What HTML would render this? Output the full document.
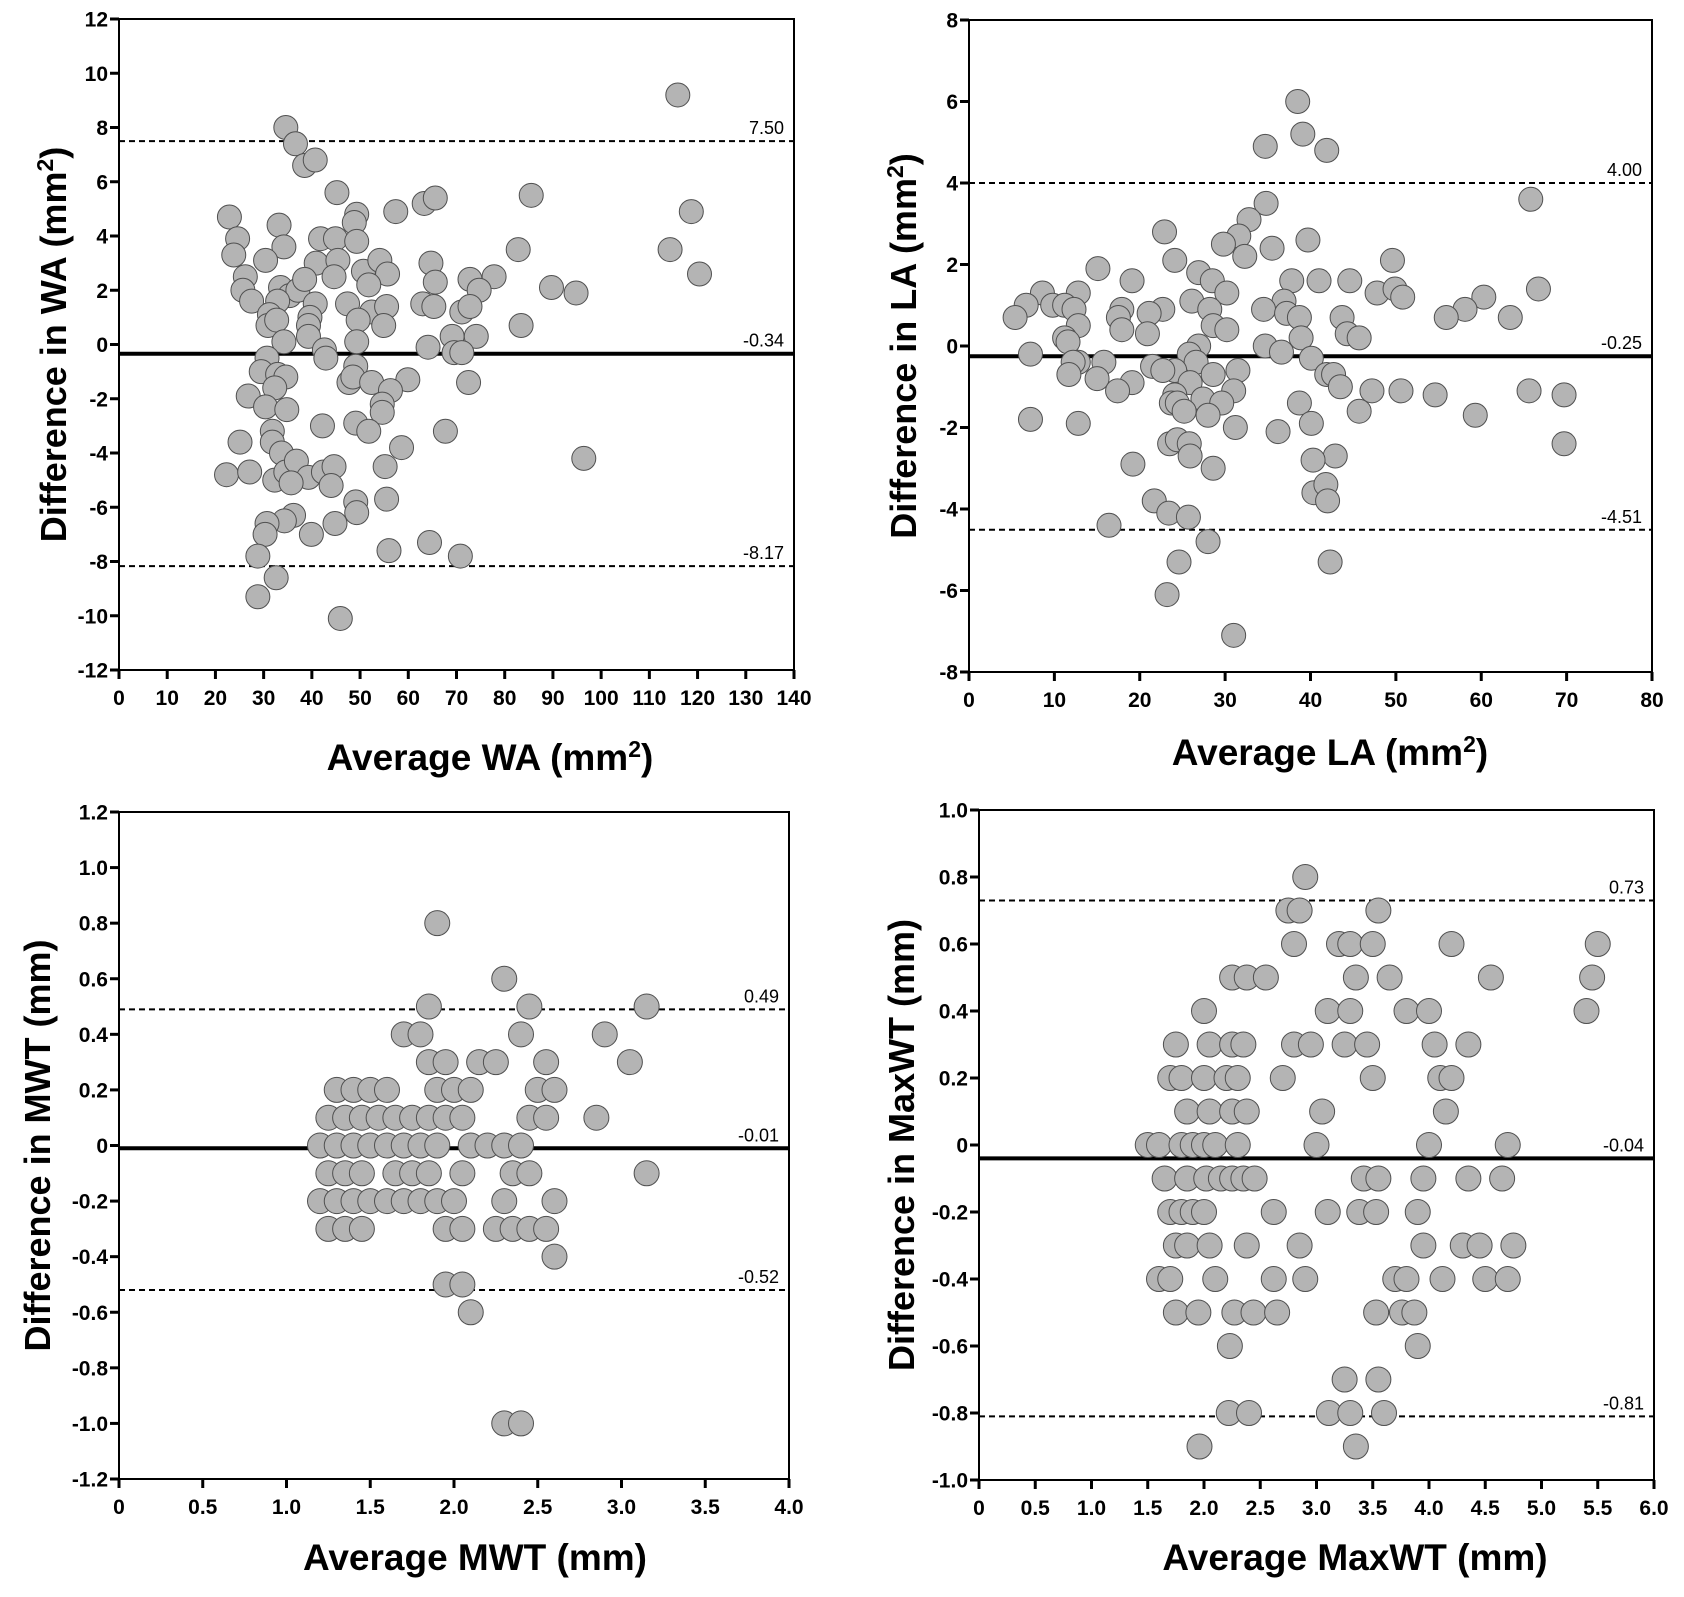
<!DOCTYPE html>
<html><head><meta charset="utf-8"><style>
html,body{margin:0;padding:0;background:#fff;}
svg{display:block;font-family:"Liberation Sans",Arial,sans-serif;}
</style></head><body>
<svg id="fig" width="1684" height="1597" viewBox="0 0 1684 1597" xmlns="http://www.w3.org/2000/svg"></svg>
<script>
// ---- Panel A: WA ----
const waX = [115.9,34.6,36.6,38.5,40.7,45.2,49.3,48.8,57.4,63.3,65.6,85.5,118.7,22.9,33.2,24.6,23.8,34.2,41.8,44.9,49.3,30.4,40.9,45.4,50.7,54.1,55.7,64.7,82.8,114.3,120.4,26.2,25.7,27.5,33.5,35.4,37.1,38.5,44.6,51.8,65.6,77.8,72.8,74.7,89.7,94.8,32.9,31.2,40.7,39.6,47.4,52.4,55.5,63.0,65.3,71.1,72.8,30.9,32.7,39.3,49.6,54.9,83.4,34.2,39.3,49.3,69.1,74.1,42.6,42.9,64.1,69.5,71.1,30.7,29.5,32.9,34.6,49.1,47.7,48.5,52.4,59.9,72.5,32.3,26.8,56.3,30.4,34.8,54.6,54.6,42.2,49.1,51.8,67.7,31.8,31.8,25.1,33.7,58.6,96.4,22.3,27.1,32.3,34.6,36.8,39.3,42.4,44.6,44.0,35.7,55.2,55.5,49.1,49.3,36.2,34.3,30.7,30.3,39.9,44.8,64.4,56.0,70.8,28.8,32.6,28.8,45.9];
const waY = [9.2,8.0,7.4,6.6,6.8,5.6,4.8,4.5,4.9,5.2,5.4,5.5,4.9,4.7,4.4,3.9,3.3,3.6,3.9,3.9,3.8,3.1,3.0,3.1,2.7,3.1,2.6,3.0,3.5,3.5,2.6,2.5,2.0,1.6,2.1,1.8,2.0,2.4,2.5,2.2,2.3,2.5,2.4,2.0,2.1,1.9,1.6,1.1,1.5,1.0,1.5,1.2,1.4,1.5,1.4,1.2,1.4,0.7,0.9,0.7,0.9,0.7,0.7,0.1,0.3,0.1,0.3,0.3,-0.2,-0.5,-0.1,-0.3,-0.3,-0.5,-1.0,-1.1,-1.2,-0.8,-1.4,-1.2,-1.4,-1.3,-1.4,-1.6,-1.9,-1.7,-2.3,-2.4,-2.2,-2.5,-3.0,-2.9,-3.2,-3.2,-3.2,-3.6,-3.6,-4.0,-3.8,-4.2,-4.8,-4.7,-5.0,-4.7,-4.3,-4.9,-4.7,-4.5,-5.2,-5.1,-4.5,-5.7,-5.8,-6.2,-6.3,-6.5,-6.6,-7.0,-7.0,-6.6,-7.3,-7.6,-7.8,-7.8,-8.6,-9.3,-10.1];
const waXTicks = [0,10,20,30,40,50,60,70,80,90,100,110,120,130,140];
const waYTicks = [12,10,8,6,4,2,0,-2,-4,-6,-8,-10,-12];
const waLines = [7.50,-0.34,-8.17];
const waLineLabels = ["7.50","-0.34","-8.17"];

// ---- Panel B: LA ----
const laX = [38.5,39.1,34.7,41.9,34.8,65.8,32.8,22.9,31.6,29.8,32.3,39.7,35.5,24.1,49.6,15.1,26.9,28.5,19.1,37.8,41.0,44.6,30.2,8.6,12.8,47.8,49.9,50.8,66.7,60.3,6.7,9.8,11.2,12.3,26.1,36.9,34.5,28.2,22.7,17.9,17.5,21.1,58.1,5.4,12.8,55.9,63.4,43.7,37.2,38.7,17.9,20.9,28.6,30.2,44.3,45.7,38.9,11.2,11.6,34.7,26.9,36.6,7.2,25.8,40.1,15.8,12.8,12.2,21.5,26.6,24.1,31.5,22.7,11.7,28.6,41.9,42.7,15.0,25.9,19.1,17.4,31.0,43.5,47.2,50.6,54.6,65.6,69.7,24.1,23.7,27.4,29.6,24.4,38.7,25.2,28.0,45.7,59.3,7.2,12.8,31.2,36.2,40.1,23.5,24.4,25.8,25.9,42.9,19.2,28.6,40.3,69.7,40.4,41.8,42.0,21.7,23.4,25.7,16.4,28.0,24.6,42.3,23.2,31.0];
const laY = [6.0,5.2,4.9,4.8,3.5,3.6,3.1,2.8,2.7,2.5,2.2,2.6,2.4,2.1,2.1,1.9,1.8,1.6,1.6,1.6,1.6,1.6,1.3,1.3,1.3,1.3,1.4,1.2,1.4,1.2,1.0,1.0,1.0,0.9,1.1,1.1,0.9,0.9,0.9,0.9,0.7,0.8,0.9,0.7,0.5,0.7,0.7,0.7,0.8,0.7,0.4,0.3,0.5,0.4,0.3,0.2,0.2,0.2,0.1,0.0,0.0,-0.15,-0.2,-0.2,-0.3,-0.4,-0.4,-0.4,-0.5,-0.4,-0.6,-0.6,-0.6,-0.7,-0.7,-0.7,-0.7,-0.8,-0.9,-0.9,-1.1,-1.1,-1.0,-1.1,-1.1,-1.2,-1.1,-1.2,-1.2,-1.4,-1.3,-1.4,-1.4,-1.4,-1.6,-1.7,-1.6,-1.7,-1.8,-1.9,-2.0,-2.1,-1.9,-2.4,-2.3,-2.4,-2.7,-2.7,-2.9,-3.0,-2.8,-2.4,-3.6,-3.4,-3.8,-3.8,-4.1,-4.2,-4.4,-4.8,-5.3,-5.3,-6.1,-7.1];
const laXTicks = [0,10,20,30,40,50,60,70,80];
const laYTicks = [8,6,4,2,0,-2,-4,-6,-8];
const laLines = [4.00,-0.25,-4.51];
const laLineLabels = ["4.00","-0.25","-4.51"];

// ---- Panel C: MWT ----
const mwtX = [1.9,2.3,1.85,2.45,3.15,1.7,1.8,2.4,2.9,1.85,1.95,2.15,2.25,2.55,3.05,
1.3,1.4,1.5,1.6,1.9,2.0,2.1,2.5,2.6,
1.25,1.35,1.45,1.55,1.65,1.75,1.85,1.95,2.05,2.45,2.55,2.85,
1.2,1.3,1.4,1.5,1.6,1.7,1.8,1.9,2.1,2.2,2.3,2.4,
1.25,1.35,1.45,1.65,1.75,1.85,2.05,2.35,2.45,3.15,
1.2,1.3,1.4,1.5,1.6,1.7,1.8,1.9,2.0,2.3,2.6,
1.25,1.35,1.45,1.95,2.05,2.25,2.35,2.45,2.55,
2.6,1.95,2.05,2.1,2.3,2.4];
const mwtY = [0.8,0.6,0.5,0.5,0.5,0.4,0.4,0.4,0.4,0.3,0.3,0.3,0.3,0.3,0.3,
0.2,0.2,0.2,0.2,0.2,0.2,0.2,0.2,0.2,
0.1,0.1,0.1,0.1,0.1,0.1,0.1,0.1,0.1,0.1,0.1,0.1,
0,0,0,0,0,0,0,0,0,0,0,0,
-0.1,-0.1,-0.1,-0.1,-0.1,-0.1,-0.1,-0.1,-0.1,-0.1,
-0.2,-0.2,-0.2,-0.2,-0.2,-0.2,-0.2,-0.2,-0.2,-0.2,-0.2,
-0.3,-0.3,-0.3,-0.3,-0.3,-0.3,-0.3,-0.3,-0.3,
-0.4,-0.5,-0.5,-0.6,-1.0,-1.0];
const mwtXTicks = ["0","0.5","1.0","1.5","2.0","2.5","3.0","3.5","4.0"];
const mwtYTicks = ["1.2","1.0","0.8","0.6","0.4","0.2","0","-0.2","-0.4","-0.6","-0.8","-1.0","-1.2"];
const mwtLines = [0.49,-0.01,-0.52];
const mwtLineLabels = ["0.49","-0.01","-0.52"];

// ---- Panel D: MaxWT ----
const maxX = [2.9,2.75,2.85,3.55,
2.8,3.2,3.3,3.5,4.2,5.5,
2.25,2.38,2.55,3.35,3.65,4.55,5.45,
2.0,3.1,3.3,3.8,4.0,5.4,
1.75,2.05,2.25,2.35,2.8,2.95,3.25,3.45,4.05,4.35,
1.7,1.8,2.0,2.2,2.3,2.7,3.5,4.1,4.2,
1.85,2.05,2.25,2.38,3.05,4.15,
1.5,1.6,1.8,1.9,2.0,2.1,2.3,3.0,4.0,4.7,
1.65,1.85,2.02,2.15,2.25,2.35,2.45,3.42,3.55,3.95,4.35,4.65,
1.7,1.8,1.9,2.0,2.62,3.1,3.38,3.53,3.9,
1.75,1.85,2.05,2.38,2.85,3.95,4.3,4.45,4.75,
1.6,1.7,2.1,2.62,2.9,3.7,3.8,4.12,4.5,4.7,
1.75,1.95,2.27,2.44,2.65,3.53,3.76,3.87,
2.23,3.9,3.25,3.55,
2.22,2.4,3.11,3.3,3.6,
1.96,3.35];
const maxY = [0.8,0.7,0.7,0.7,
0.6,0.6,0.6,0.6,0.6,0.6,
0.5,0.5,0.5,0.5,0.5,0.5,0.5,
0.4,0.4,0.4,0.4,0.4,0.4,
0.3,0.3,0.3,0.3,0.3,0.3,0.3,0.3,0.3,0.3,
0.2,0.2,0.2,0.2,0.2,0.2,0.2,0.2,0.2,
0.1,0.1,0.1,0.1,0.1,0.1,
0,0,0,0,0,0,0,0,0,0,
-0.1,-0.1,-0.1,-0.1,-0.1,-0.1,-0.1,-0.1,-0.1,-0.1,-0.1,-0.1,
-0.2,-0.2,-0.2,-0.2,-0.2,-0.2,-0.2,-0.2,-0.2,
-0.3,-0.3,-0.3,-0.3,-0.3,-0.3,-0.3,-0.3,-0.3,
-0.4,-0.4,-0.4,-0.4,-0.4,-0.4,-0.4,-0.4,-0.4,-0.4,
-0.5,-0.5,-0.5,-0.5,-0.5,-0.5,-0.5,-0.5,
-0.6,-0.6,-0.7,-0.7,
-0.8,-0.8,-0.8,-0.8,-0.8,
-0.9,-0.9];
const maxXTicks = ["0","0.5","1.0","1.5","2.0","2.5","3.0","3.5","4.0","4.5","5.0","5.5","6.0"];
const maxYTicks = ["1.0","0.8","0.6","0.4","0.2","0","-0.2","-0.4","-0.6","-0.8","-1.0"];
const maxLines = [0.73,-0.04,-0.81];
const maxLineLabels = ["0.73","-0.04","-0.81"];

const NS = "http://www.w3.org/2000/svg";
const svg = document.getElementById('fig');
function mk(tag, attrs, parent){
  const e = document.createElementNS(NS, tag);
  for (const k in attrs) e.setAttribute(k, attrs[k]);
  (parent||svg).appendChild(e);
  return e;
}

function panel(cfg){
  const g = mk('g', {});
  
  
  const xs = v => cfg.x0 + (v - cfg.xmin) / (cfg.xmax - cfg.xmin) * (cfg.x1 - cfg.x0);
  const ys = v => cfg.y1 - (v - cfg.ymin) / (cfg.ymax - cfg.ymin) * (cfg.y1 - cfg.y0);

  cfg.lines.forEach((v, i) => {
    const ln = mk('line', {x1: cfg.x0, x2: cfg.x1, y1: ys(v), y2: ys(v), stroke: '#000',
      'stroke-width': i === 1 ? 4 : 2, 'stroke-dasharray': i === 1 ? 'none' : '6,4'}, g);
    
    
    const t = mk('text', {x: cfg.x1 - 10, y: ys(v) - 7, 'text-anchor': 'end', 'font-size': 18, fill: '#000'}, g);
    t.textContent = cfg.lineLabels[i];
    
    
  });

  cfg.px.forEach((xv, i) => {
    const c = mk('circle', {cx: xs(xv), cy: ys(cfg.py[i]), r: cfg.r, fill: '#b4b4b4', stroke: '#505050', 'stroke-width': 1}, g);
    
    
  });

  const fr = mk('rect', {x: cfg.x0, y: cfg.y0, width: cfg.x1 - cfg.x0, height: cfg.y1 - cfg.y0, fill: 'none', stroke: '#000', 'stroke-width': 2}, g);
  
  

  cfg.yTicks.forEach(lbl => {
    const v = parseFloat(lbl);
    mk('line', {x1: cfg.x0 - 9, x2: cfg.x0, y1: ys(v), y2: ys(v), stroke: '#000', 'stroke-width': 3}, g);
    const t = mk('text', {x: cfg.x0 - 11, y: ys(v) + 7.5, 'text-anchor': 'end', 'font-size': 21, 'font-weight': 'bold'}, g);
    t.textContent = lbl;
    
    
  });
  cfg.xTicks.forEach(lbl => {
    const v = parseFloat(lbl);
    mk('line', {x1: xs(v), x2: xs(v), y1: cfg.y1, y2: cfg.y1 + 9, stroke: '#000', 'stroke-width': 3}, g);
    const t = mk('text', {x: xs(v), y: cfg.y1 + 35, 'text-anchor': 'middle', 'font-size': 21, 'font-weight': 'bold'}, g);
    t.textContent = lbl;
    
    
  });

  const yt = mk('text', {x: 0, y: 0, 'text-anchor': 'middle', 'font-size': 36, 'font-weight': 'bold',
    transform: `translate(${cfg.ytx},${(cfg.y0 + cfg.y1) / 2}) rotate(-90)`}, g);
  yt.innerHTML = cfg.ytitle;
  
  
  const xt = mk('text', {x: cfg.xtx, y: cfg.xty, 'text-anchor': 'middle', 'font-size': 37, 'font-weight': 'bold'}, g);
  xt.innerHTML = cfg.xtitle;
  
  
}

const sup2 = '<tspan font-size="23" dy="-13">2</tspan><tspan dy="13">)</tspan>';

panel({name:'panel-wa', x0:119, x1:794, y0:19, y1:670, xmin:0, xmax:140, ymin:-12, ymax:12, r:12,
  px:waX, py:waY, xTicks:waXTicks.map(String), yTicks:waYTicks.map(String), lines:waLines, lineLabels:waLineLabels,
  ytx:66, ytitle:'Difference in WA (mm'+sup2, xtx:490, xty:770, xtitle:'Average WA (mm'+sup2});
panel({name:'panel-la', x0:969, x1:1652, y0:20, y1:672, xmin:0, xmax:80, ymin:-8, ymax:8, r:12,
  px:laX, py:laY, xTicks:laXTicks.map(String), yTicks:laYTicks.map(String), lines:laLines, lineLabels:laLineLabels,
  ytx:916, ytitle:'Difference in LA (mm'+sup2, xtx:1330, xty:765, xtitle:'Average LA (mm'+sup2});
panel({name:'panel-mwt', x0:119, x1:789, y0:812, y1:1479, xmin:0, xmax:4, ymin:-1.2, ymax:1.2, r:12.5,
  px:mwtX, py:mwtY, xTicks:mwtXTicks, yTicks:mwtYTicks, lines:mwtLines, lineLabels:mwtLineLabels,
  ytx:50, ytitle:'Difference in MWT (mm)', xtx:475, xty:1570, xtitle:'Average MWT (mm)'});
panel({name:'panel-maxwt', x0:979, x1:1654, y0:810, y1:1480, xmin:0, xmax:6, ymin:-1, ymax:1, r:12.5,
  px:maxX, py:maxY, xTicks:maxXTicks, yTicks:maxYTicks, lines:maxLines, lineLabels:maxLineLabels,
  ytx:914, ytitle:'Difference in MaxWT (mm)', xtx:1355, xty:1570, xtitle:'Average MaxWT (mm)'});
</script>
</body></html>
